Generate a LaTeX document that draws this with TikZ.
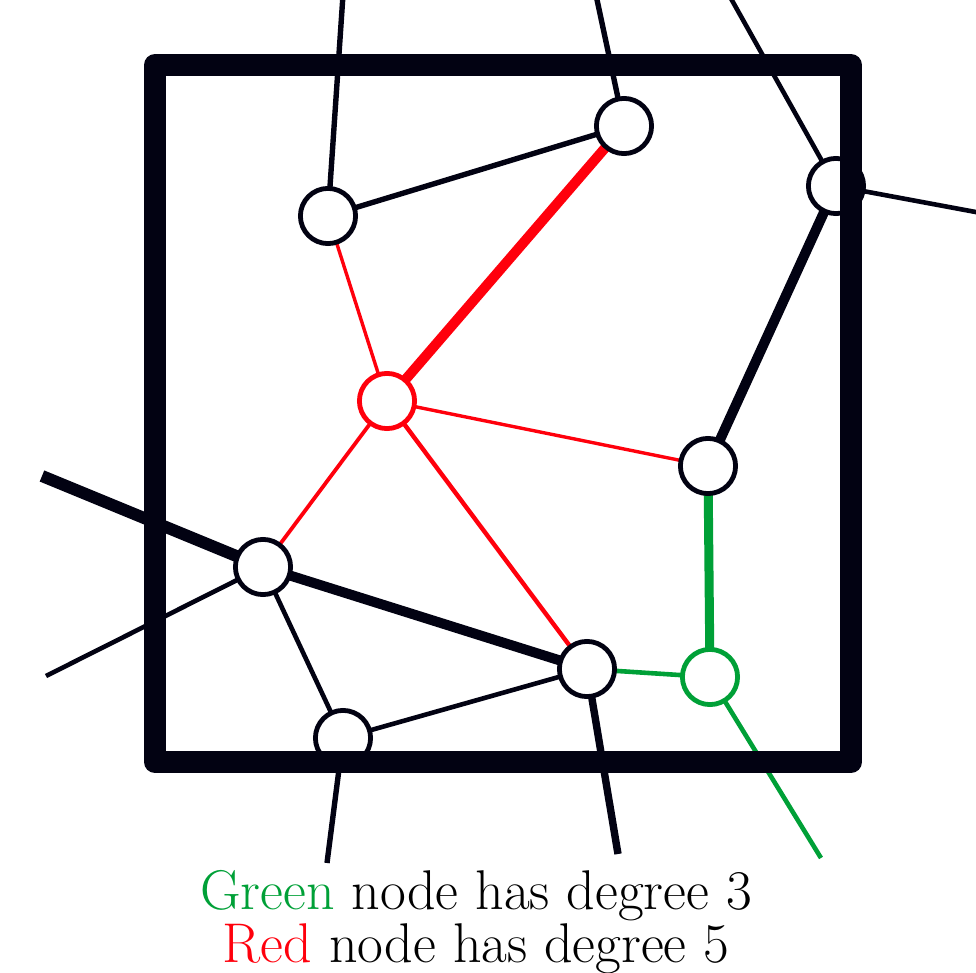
\documentclass[tikz,border=0pt]{standalone}
\begin{document}
\begin{tikzpicture}[x=0.5pt,y=-0.5pt,
  vtx/.style={circle,draw=dk,fill=white,line width=2.4pt,minimum size=27.6pt,inner sep=0pt},
  rvtx/.style={vtx,draw=rd},
  gvtx/.style={vtx,draw=gn},
  thin/.style={line width=2.3pt},
  thick/.style={line width=5pt},
  lbl/.style={font=\fontsize{28}{24.5}\selectfont,inner sep=0pt,align=center,anchor=base}]
\definecolor{dk}{RGB}{2,2,18}
\definecolor{rd}{RGB}{255,0,12}
\definecolor{gn}{RGB}{0,160,55}
\useasboundingbox (0,0) rectangle (976,973);
\path (328,216) coordinate (A) (624,126) coordinate (B) (836,186) coordinate (C)
  (387,401) coordinate (D) (708,466) coordinate (E) (263,567) coordinate (F)
  (587,669) coordinate (G) (710,677) coordinate (H) (343,738) coordinate (I);
\coordinate (tA) at (343,-5);
\coordinate (tB) at (596,-5);
\coordinate (tC) at (729,-5);
\coordinate (rC) at (981,213);
\coordinate (lF1) at (42,476);
\coordinate (lF2) at (46,676);
\coordinate (bG) at (618,854);
\coordinate (bH) at (821,858);
\coordinate (bI) at (327,863);
% edges
\draw[dk,line width=2.7pt] (A) -- (tA);
\draw[dk,line width=2.7pt] (B) -- (tB);
\draw[dk,line width=2.7pt] (A) -- (B);
\draw[dk,thin] (C) -- (tC);
\draw[dk,thin] (C) -- (rC);
\draw[dk,thick] (C) -- (E);
\draw[rd,line width=5pt] (D) -- (B);
\draw[rd,line width=1.7pt] (D) -- (A);
\draw[rd,line width=1.7pt] (D) -- (E);
\draw[rd,line width=1.9pt] (D) -- (F);
\draw[rd,line width=2.2pt] (D) -- (G);
\draw[gn,line width=4.5pt] (E) -- (H);
\draw[dk,line width=6pt] (F) -- (lF1);
\draw[dk,line width=5pt] (F) -- (G);
\draw[dk,thin] (F) -- (lF2);
\draw[dk,thin] (F) -- (I);
\draw[gn,thin] (G) -- (H);
\draw[dk,thin] (G) -- (I);
\draw[dk,line width=3.7pt] (G) -- (bG);
\draw[gn,thin] (H) -- (bH);
\draw[dk,line width=2.7pt] (I) -- (bI);
% nodes
\node[vtx] (nA) at (A) {};
\node[vtx] (nB) at (B) {};
\node[vtx] (nC) at (C) {};
\node[rvtx] (nD) at (D) {};
\node[vtx] (nE) at (E) {};
\node[vtx] (nF) at (F) {};
\node[vtx] (nG) at (G) {};
\node[gvtx] (nH) at (H) {};
\node[vtx] (nI) at (I) {};
% frame
\draw[dk,line width=11pt,line join=round] (155,65) rectangle (851,762);
% label
\node[lbl] (t1) at (476,962) {\textcolor{gn}{Green} node has degree 3\\\textcolor{rd}{Red} node has degree 5};
\end{tikzpicture}
\end{document}
